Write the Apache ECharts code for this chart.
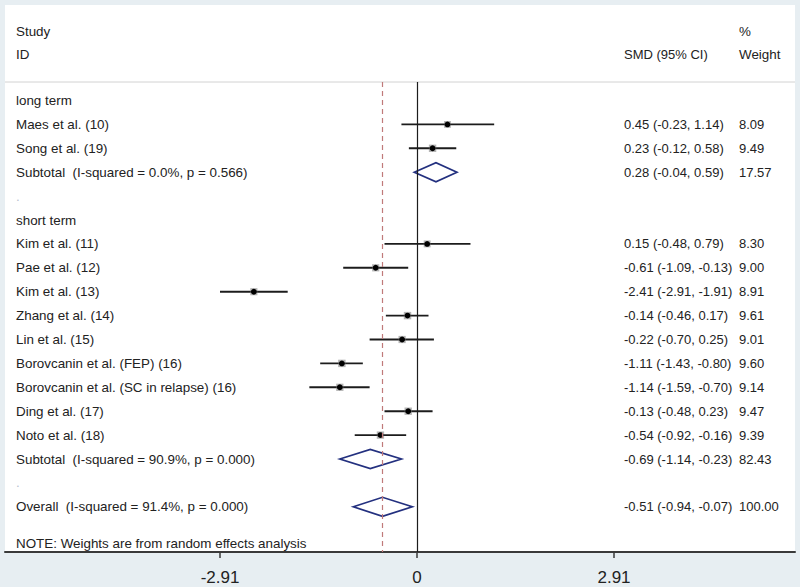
<!DOCTYPE html>
<html>
<head>
<meta charset="utf-8">
<script src="https://cdn.jsdelivr.net/npm/echarts@6/dist/echarts.min.js"></script>
<style>
html,body{margin:0;padding:0;background:#e7eef2;}
#chart{width:800px;height:587px;}
</style>
</head>
<body>
<div id="chart"></div>
<script>
// ---- data ----
const rowLabels = [
  'long term',
  'Maes et al. (10)',
  'Song et al. (19)',
  'Subtotal  (I-squared = 0.0%, p = 0.566)',
  '.',
  'short term',
  'Kim et al. (11)',
  'Pae et al. (12)',
  'Kim et al. (13)',
  'Zhang et al. (14)',
  'Lin et al. (15)',
  'Borovcanin et al. (FEP) (16)',
  'Borovcanin et al. (SC in relapse) (16)',
  'Ding et al. (17)',
  'Noto et al. (18)',
  'Subtotal  (I-squared = 90.9%, p = 0.000)',
  '.',
  'Overall  (I-squared = 91.4%, p = 0.000)'
];
const studyRows = [1, 2, 6, 7, 8, 9, 10, 11, 12, 13, 14];
const studyEst  = [0.45, 0.23, 0.15, -0.61, -2.41, -0.14, -0.22, -1.11, -1.14, -0.13, -0.54];
const studyLow  = [-0.23, -0.12, -0.48, -1.09, -2.91, -0.46, -0.70, -1.43, -1.59, -0.48, -0.92];
const studyHigh = [1.14, 0.58, 0.79, -0.13, -1.91, 0.17, 0.25, -0.80, -0.70, 0.23, -0.16];
const studyWeight = [8.09, 9.49, 8.30, 9.00, 8.91, 9.61, 9.01, 9.60, 9.14, 9.47, 9.39];
const pooledRows = [3, 15, 17];
const pooledEst  = [0.28, -0.69, -0.51];
const pooledLow  = [-0.04, -1.14, -0.94];
const pooledHigh = [0.59, -0.23, -0.07];
const pooledWeight = [17.57, 82.43, 100.00];
const tickValues = [-2.91, 0, 2.91];
const tickLabels = ['-2.91', '0', '2.91'];
const headerLeft = ['Study', 'ID'];
const headerSmd = 'SMD (95% CI)';
const headerWeight = ['%', 'Weight'];
const noteText = 'NOTE: Weights are from random effects analysis';

// ---- layout (pixel anchors) ----
const W = 800, H = 587;
const panelL = 5, panelR = 795, panelT = 5, axisY = 552, headerLineY = 82;
const zeroPx = 417, tickPx = 197; // pixel distance from 0 to 2.91
const pxPerUnit = tickPx / 2.91;
const xMin = (panelL - zeroPx) / pxPerUnit;
const xMax = (panelR - zeroPx) / pxPerUnit;
const rowTop = 100.5, rowStep = 23.9;
const yMin = (headerLineY - rowTop) / rowStep;
const yMax = (axisY - rowTop) / rowStep;
const textColor = '#222222';
const fontFamily = 'Liberation Sans, Arial, sans-serif';
const fs = 13.4;
const fsR = 13.0;

// build per-row right-column texts from data
const smdText = {}, wText = {};
function fmt(v){ return v.toFixed(2); }
studyRows.forEach((r,i)=>{ smdText[r] = fmt(studyEst[i])+' ('+fmt(studyLow[i])+', '+fmt(studyHigh[i])+')'; wText[r]=fmt(studyWeight[i]); });
pooledRows.forEach((r,i)=>{ smdText[r] = fmt(pooledEst[i])+' ('+fmt(pooledLow[i])+', '+fmt(pooledHigh[i])+')'; wText[r]=fmt(pooledWeight[i]); });

const chart = echarts.init(document.getElementById('chart'), null, {renderer:'svg', width:W, height:H});

const option = {
  backgroundColor: '#e7eef2',
  animation: false,
  graphic: [
    {type:'rect', z:-10, shape:{x:panelL, y:panelT, width:panelR-panelL, height:axisY-panelT}, style:{fill:'#ffffff'}},
    {type:'line', z:-5, shape:{x1:panelL, y1:headerLineY, x2:panelR, y2:headerLineY}, style:{stroke:'#d2d2d2', lineWidth:1}},
    {type:'text', x:16, y:31, style:{text:headerLeft[0], fill:textColor, font:fs+'px '+fontFamily, verticalAlign:'middle'}},
    {type:'text', x:16, y:54, style:{text:headerLeft[1], fill:textColor, font:fs+'px '+fontFamily, verticalAlign:'middle'}},
    {type:'text', x:624, y:54, style:{text:headerSmd, fill:textColor, font:fsR+'px '+fontFamily, verticalAlign:'middle'}},
    {type:'text', x:739, y:31, style:{text:headerWeight[0], fill:textColor, font:fs+'px '+fontFamily, verticalAlign:'middle'}},
    {type:'text', x:739, y:54, style:{text:headerWeight[1], fill:textColor, font:fs+'px '+fontFamily, verticalAlign:'middle'}},
    {type:'text', x:16, y:543, style:{text:noteText, fill:textColor, font:fs+'px '+fontFamily, verticalAlign:'middle'}}
  ],
  grid: {left: panelL, right: W - panelR, top: headerLineY, bottom: H - axisY, containLabel:false},
  xAxis: {
    type:'value', min:xMin, max:xMax,
    splitLine:{show:false},
    axisLine:{show:true, onZero:false, lineStyle:{color:'#3a3a3a', width:2}},
    axisTick:{show:true, customValues:tickValues, length:6, lineStyle:{color:'#3a3a3a', width:1.5}},
    axisLabel:{show:true, customValues:tickValues, margin:17, fontSize:17, color:'#222', fontFamily:fontFamily,
      formatter:(v)=>{ const i = tickValues.findIndex(t=>Math.abs(t-v)<1e-6); return i>=0?tickLabels[i]:''; }}
  },
  yAxis: {type:'value', inverse:true, min:yMin, max:yMax, show:false},
  series: [
    {
      type:'custom', name:'text', silent:true, z:5,
      data: rowLabels.map((l,i)=>[0,i]),
      renderItem:(params, api)=>{
        const r = api.value(1);
        const y = api.coord([0, r])[1];
        const children = [];
        const lab = rowLabels[params.dataIndex];
        children.push({type:'text', x:16, y:y, style:{text:lab, fill: lab==='.'?'#b8bfd0':textColor, font:fs+'px '+fontFamily, verticalAlign:'middle'}});
        if (smdText[r] !== undefined) {
          children.push({type:'text', x:624, y:y, style:{text:smdText[r], fill:textColor, font:fsR+'px '+fontFamily, verticalAlign:'middle'}});
          children.push({type:'text', x:739, y:y, style:{text:wText[r], fill:textColor, font:fsR+'px '+fontFamily, verticalAlign:'middle'}});
        }
        return {type:'group', children};
      }
    },
    {
      type:'custom', name:'studies', z:4,
      data: studyRows.map((r,i)=>[studyEst[i], r, studyLow[i], studyHigh[i], studyWeight[i]]),
      renderItem:(params, api)=>{
        const p = api.coord([api.value(0), api.value(1)]);
        const lo = api.coord([api.value(2), api.value(1)]);
        const hi = api.coord([api.value(3), api.value(1)]);
        const s = Math.sqrt(api.value(4)) * 2.4;
        return {type:'group', children:[
          {type:'line', shape:{x1:lo[0], y1:p[1], x2:hi[0], y2:p[1]}, style:{stroke:'#1c1c1c', lineWidth:1.9}},
          {type:'rect', shape:{x:p[0]-s/2, y:p[1]-s/2, width:s, height:s}, style:{fill:'rgba(120,120,120,0.55)'}},
          {type:'circle', shape:{cx:p[0], cy:p[1], r:2.9}, style:{fill:'#000'}}
        ]};
      },
      markLine: {
        silent:true, symbol:'none', label:{show:false},
        data:[
          {xAxis:0, lineStyle:{color:'#1c1c1c', type:'solid', width:1.2}},
          {xAxis:pooledEst[2], lineStyle:{color:'#c07a7a', type:[5,4], width:1.2}}
        ]
      }
    },
    {
      type:'custom', name:'pooled', z:4,
      data: pooledRows.map((r,i)=>[pooledEst[i], r, pooledLow[i], pooledHigh[i]]),
      renderItem:(params, api)=>{
        const p = api.coord([api.value(0), api.value(1)]);
        const lo = api.coord([api.value(2), api.value(1)]);
        const hi = api.coord([api.value(3), api.value(1)]);
        const h = 9.5;
        return {type:'polygon', shape:{points:[[lo[0],p[1]],[p[0],p[1]-h],[hi[0],p[1]],[p[0],p[1]+h]]},
          style:{fill:'none', stroke:'#23307f', lineWidth:1.7}};
      }
    }
  ]
};
chart.setOption(option);
</script>
</body>
</html>
